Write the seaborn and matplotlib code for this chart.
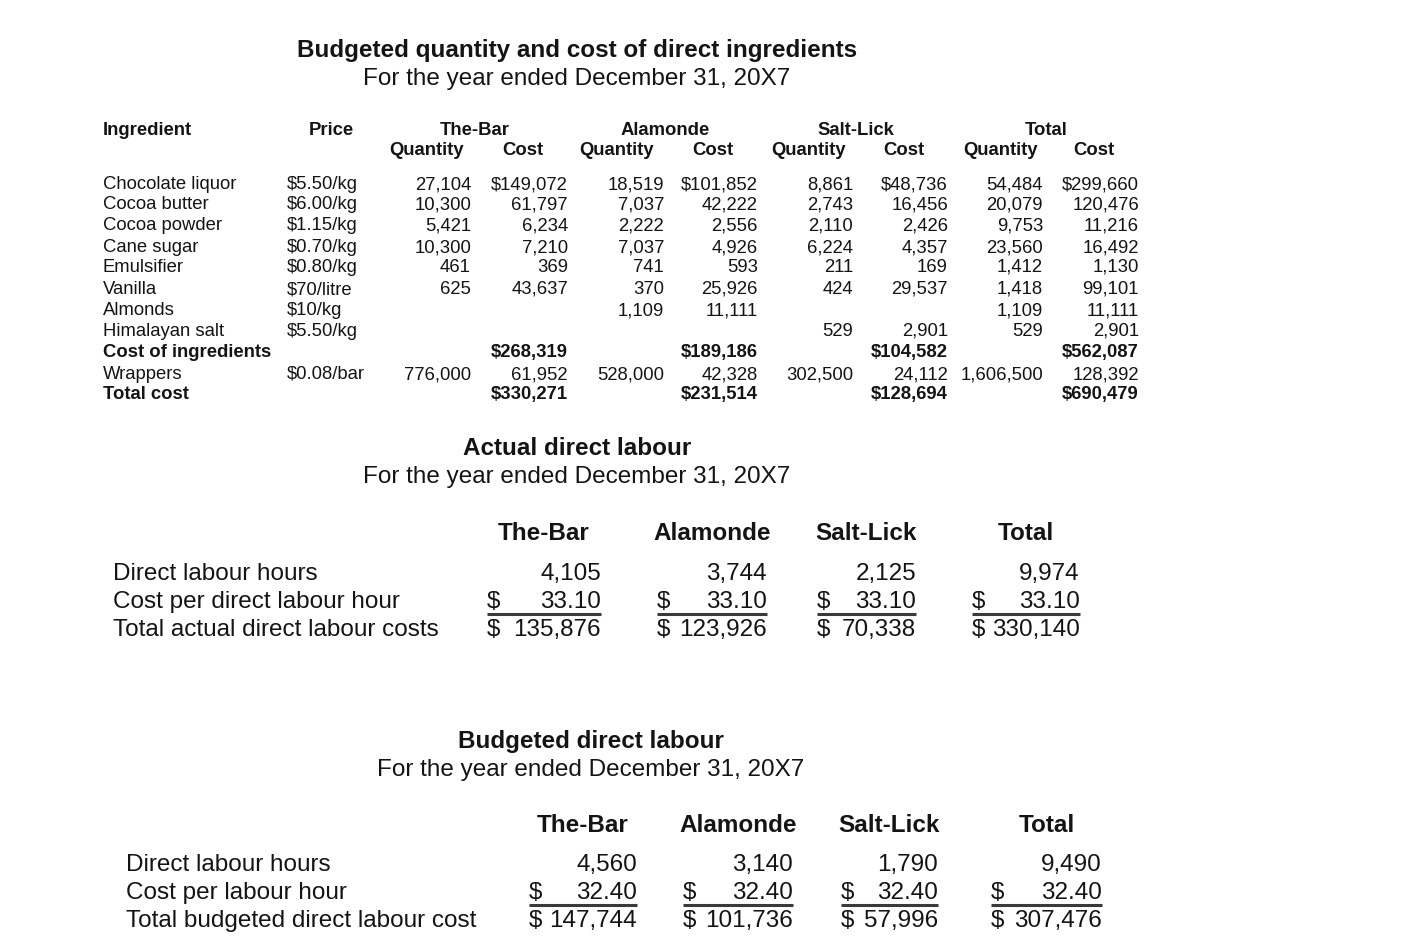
import numpy as np
import matplotlib
matplotlib.use("Agg")
import matplotlib.pyplot as plt
import seaborn as sns

# Dane - budzet skladnikow
ingredients = ["Chocolate liquor", "Cocoa butter", "Cocoa powder", "Cane sugar",
               "Emulsifier", "Vanilla", "Almonds", "Himalayan salt"]
prices = ["$5.50/kg", "$6.00/kg", "$1.15/kg", "$0.70/kg", "$0.80/kg", "$70/litre", "$10/kg", "$5.50/kg"]
products = ["The-Bar", "Alamonde", "Salt-Lick", "Total"]
bar_qty = [27104, 10300, 5421, 10300, 461, 625, None, None]
bar_cost = [149072, 61797, 6234, 7210, 369, 43637, None, None]
alam_qty = [18519, 7037, 2222, 7037, 741, 370, 1109, None]
alam_cost = [101852, 42222, 2556, 4926, 593, 25926, 11111, None]
salt_qty = [8861, 2743, 2110, 6224, 211, 424, None, 529]
salt_cost = [48736, 16456, 2426, 4357, 169, 29537, None, 2901]
total_qty = [54484, 20079, 9753, 23560, 1412, 1418, 1109, 529]
total_cost = [299660, 120476, 11216, 16492, 1130, 99101, 11111, 2901]
ingredients_cost = [268319, 189186, 104582, 562087]
wrapper_price = "$0.08/bar"
wrapper_qty = [776000, 528000, 302500, 1606500]
wrapper_cost = [61952, 42328, 24112, 128392]
grand_total = [330271, 231514, 128694, 690479]

# Dane - robocizna
actual_hours = [4105, 3744, 2125, 9974]
actual_rate = [33.10, 33.10, 33.10, 33.10]
actual_total = [135876, 123926, 70338, 330140]
budget_hours = [4560, 3140, 1790, 9490]
budget_rate = [32.40, 32.40, 32.40, 32.40]
budget_total = [147744, 101736, 57996, 307476]

sns.set_theme(style="white")
plt.rcParams['font.family'] = ['Liberation Sans', 'DejaVu Sans']
INK = "#141414"

fig = plt.figure(figsize=(14.28, 9.48), dpi=100)
ax = fig.add_axes([0, 0, 1, 1])
ax.set_xlim(0, 1428)
ax.set_ylim(948, 0)
ax.axis("off")


def txt(x, y, s, size, ha="left", bold=False):
    ax.text(x, y, s, fontsize=size, ha=ha, va="baseline", color=INK,
            fontweight="bold" if bold else "normal")


# ---------- Tabela 1: skladniki ----------
fs1 = 13.3
fst = 17.5
txt(577, 57, "Budgeted quantity and cost of direct ingredients", fst, "center", True)
txt(577, 85, "For the year ended December 31, 20X7", fst, "center")

txt(103, 135, "Ingredient", fs1, bold=True)
txt(331, 135, "Price", fs1, "center", True)
group_centers = [475, 665, 856, 1046]
qty_centers = [427, 617, 808, 1000]
cost_centers = [523, 713, 904, 1094]
qty_right = [471, 664, 853, 1043]
cost_right = [568, 758, 948, 1139]
for g, qc, cc, name in zip(group_centers, qty_centers, cost_centers, products):
    txt(g, 135, name, fs1, "center", True)
    txt(qc, 155, "Quantity", fs1, "center", True)
    txt(cc, 155, "Cost", fs1, "center", True)

row_y = [189, 209, 230, 252, 272, 294, 315, 336, 357, 379, 399]
qty_cols = [bar_qty, alam_qty, salt_qty, total_qty]
cost_cols = [bar_cost, alam_cost, salt_cost, total_cost]
for i, (name, price) in enumerate(zip(ingredients, prices)):
    y = row_y[i]
    txt(103, y, name, fs1)
    txt(287, y, price, fs1)
    for j in range(4):
        q = qty_cols[j][i]
        c = cost_cols[j][i]
        if q is not None:
            txt(qty_right[j], y, f"{q:,}", fs1, "right")
        if c is not None:
            s = f"${c:,}" if i == 0 else f"{c:,}"
            txt(cost_right[j], y, s, fs1, "right")

y = row_y[8]
txt(103, y, "Cost of ingredients", fs1, bold=True)
for j in range(4):
    txt(cost_right[j], y, f"${ingredients_cost[j]:,}", fs1, "right", True)
y = row_y[9]
txt(103, y, "Wrappers", fs1)
txt(287, y, wrapper_price, fs1)
for j in range(4):
    txt(qty_right[j], y, f"{wrapper_qty[j]:,}", fs1, "right")
    txt(cost_right[j], y, f"{wrapper_cost[j]:,}", fs1, "right")
y = row_y[10]
txt(103, y, "Total cost", fs1, bold=True)
for j in range(4):
    txt(cost_right[j], y, f"${grand_total[j]:,}", fs1, "right", True)


# ---------- Tabele robocizny ----------
def labour_table(title, title_x, title_y, header_y, rows_y, label_x, labels,
                 dollar_x, num_right, hours, rate, total):
    fs = 17.5
    txt(title_x, title_y, title, fst, "center", True)
    txt(title_x, title_y + 28, "For the year ended December 31, 20X7", fst, "center")
    for dx, nr, name in zip(dollar_x, num_right, products):
        txt((dx + nr) / 2, header_y, name, fs, "center", True)
    for lab, ry in zip(labels, rows_y):
        txt(label_x, ry, lab, fs)
    for j in range(4):
        txt(num_right[j], rows_y[0], f"{hours[j]:,}", fs, "right")
        txt(dollar_x[j], rows_y[1], "$", fs)
        txt(num_right[j], rows_y[1], f"{rate[j]:.2f}", fs, "right")
        ax.plot([dollar_x[j], num_right[j]], [rows_y[1] + 6, rows_y[1] + 6],
                color="#3a3a3a", lw=2.2, solid_capstyle="butt")
        txt(dollar_x[j], rows_y[2], "$", fs)
        txt(num_right[j], rows_y[2], f"{total[j]:,}", fs, "right")


labour_table("Actual direct labour", 577, 455, 540, [580, 608, 636], 113,
             ["Direct labour hours", "Cost per direct labour hour", "Total actual direct labour costs"],
             [487, 657, 817, 972], [601, 767, 916, 1080],
             actual_hours, actual_rate, actual_total)

labour_table("Budgeted direct labour", 591, 748, 832, [871, 899, 927], 126,
             ["Direct labour hours", "Cost per labour hour", "Total budgeted direct labour cost"],
             [529, 683, 841, 991], [637, 793, 938, 1102],
             budget_hours, budget_rate, budget_total)

fig.savefig("out.png", dpi=100, facecolor="white")
